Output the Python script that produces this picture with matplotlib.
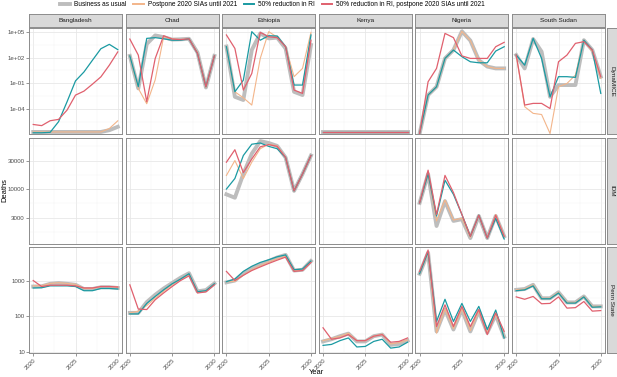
import matplotlib
matplotlib.use("Agg")
import matplotlib.pyplot as plt
from matplotlib.lines import Line2D
from matplotlib.ticker import FixedLocator, NullFormatter

plt.rcParams['font.family'] = ['Liberation Sans', 'DejaVu Sans']

years = list(range(2020, 2031))
countries = ["Bangladesh", "Chad", "Ethiopia", "Kenya", "Nigeria", "South Sudan"]
models = ["DynaMICE", "IDM", "Penn State"]
scenarios = ["Business as usual", "Postpone 2020 SIAs until 2021",
             "50% reduction in RI", "50% reduction in RI, postpone 2020 SIAs until 2021"]

# ---- DynaMICE ----
bau_dyn_bgd = [2e-7, 2e-7, 2e-7, 2e-7, 2e-7, 2e-7, 2e-7, 2e-7, 2e-7, 3.2e-7, 8e-7]
ppn_dyn_bgd = [2e-7, 2e-7, 2e-7, 2e-7, 2e-7, 2e-7, 2e-7, 2e-7, 2e-7, 5e-7, 4e-6]
ri_dyn_bgd = [1.6e-7, 1.6e-7, 1.8e-7, 3.2e-6, 6.8e-4, 0.19, 2.1, 49, 1100, 3600, 870]
rippn_dyn_bgd = [1.5e-6, 1.1e-6, 4.1e-6, 5.9e-6, 7.2e-5, 4.1e-3, 0.012, 0.078, 0.56, 13, 470]

bau_dyn_tcd = [160, 0.025, 4000, 40000, 25000, 13000, 14000, 16000, 400, 0.032, 160]
ppn_dyn_tcd = [160, 0.025, 4e-4, 0.25, 28000, 16000, 13000, 16000, 400, 0.032, 160]
ri_dyn_tcd = [160, 0.04, 18000, 22000, 16000, 11000, 11000, 16000, 320, 0.039, 155]
rippn_dyn_tcd = [15000, 200, 6.9e-4, 79, 37000, 15000, 13000, 16000, 320, 0.039, 160]

bau_dyn_eth = [2000, 2.6e-3, 1.1e-3, 790, 69000, 18000, 22000, 1200, 0.01, 4.2e-3, 3000]
ppn_dyn_eth = [2000, 0.01, 2e-3, 2.8e-4, 81, 110000, 25000, 2000, 0.59, 5.5, 91000]
ri_dyn_eth = [1900, 0.01, 0.23, 110000, 11000, 37000, 34000, 1900, 0.062, 0.062, 45000]
rippn_dyn_eth = [45000, 1200, 0.016, 1.4, 91000, 28000, 22000, 1900, 0.016, 6.5e-3, 11000]

bau_dyn_ken = [1.8e-7] * 11
ppn_dyn_ken = [1.8e-7] * 11
ri_dyn_ken = [1.8e-7] * 11
rippn_dyn_ken = [1.8e-7] * 11

bau_dyn_nga = [1.3e-7, 4.2e-3, 0.039, 81, 780, 120000, 10000, 50, 9, 5.5, 5.5]
ppn_dyn_nga = [1.3e-7, 4.2e-3, 0.039, 81, 780, 120000, 10000, 50, 9, 5.5, 5.5]
ri_dyn_nga = [1.3e-7, 4.2e-3, 0.039, 81, 780, 130, 33, 25, 25, 590, 1900]
rippn_dyn_nga = [1.3e-7, 0.15, 5.5, 69000, 22000, 160, 81, 81, 81, 1900, 6200]

bau_dyn_ssd = [200, 5.5, 15000, 500, 2.6e-3, 0.062, 0.062, 0.062, 11000, 780, 0.59]
ppn_dyn_ssd = [200, 1.8e-4, 3e-5, 2.2e-5, 1.3e-7, 0.039, 0.095, 0.91, 11000, 500, 0.37]
ri_dyn_ssd = [200, 13, 18000, 81, 2.6e-3, 0.59, 0.59, 0.49, 11000, 780, 6.5e-3]
rippn_dyn_ssd = [200, 2.8e-4, 4.4e-4, 4.4e-4, 1.1e-4, 33, 200, 4700, 7400, 780, 0.59]

# ---- IDM ----
bau_idm_eth = [7900, 6900, 18000, 41000, 68000, 63000, 56000, 35000, 9100, 18000, 38000]
ppn_idm_eth = [17000, 31000, 15000, 29000, 50000, 60000, 56000, 35000, 9100, 18000, 38000]
ri_idm_eth = [9800, 15000, 38000, 60000, 63000, 55000, 50000, 35000, 9100, 18000, 38000]
rippn_idm_eth = [29000, 48000, 19000, 33000, 54000, 59000, 55000, 35000, 9100, 18000, 38000]

bau_idm_nga = [5600, 18000, 2200, 6000, 2700, 2900, 1350, 3300, 1350, 3300, 1450]
ppn_idm_nga = [5600, 18000, 2700, 6300, 2800, 3000, 1380, 3400, 1350, 3500, 1480]
ri_idm_nga = [5600, 18000, 3300, 14000, 7900, 3500, 1450, 3400, 1350, 3000, 1300]
rippn_idm_nga = [5600, 21000, 3500, 17000, 8500, 3500, 1450, 3400, 1350, 3400, 1450]

# ---- Penn State ----
bau_psu_bgd = [680, 690, 810, 850, 810, 760, 580, 580, 650, 650, 620]
ppn_psu_bgd = [710, 720, 830, 870, 830, 780, 600, 600, 680, 680, 650]
ri_psu_bgd = [620, 630, 710, 710, 710, 680, 520, 520, 600, 600, 580]
rippn_psu_bgd = [1000, 680, 740, 740, 740, 710, 620, 620, 680, 680, 660]

bau_psu_tcd = [125, 125, 250, 400, 600, 850, 1200, 1600, 500, 540, 830]
ppn_psu_tcd = [125, 140, 200, 320, 500, 760, 1070, 1480, 480, 510, 790]
ri_psu_tcd = [117, 117, 230, 360, 550, 810, 1100, 1550, 490, 520, 810]
rippn_psu_tcd = [760, 160, 155, 290, 450, 680, 1000, 1350, 450, 480, 760]

bau_psu_eth = [890, 1000, 1600, 2200, 2800, 3500, 4400, 5200, 1900, 2000, 3500]
ppn_psu_eth = [930, 950, 1400, 2000, 2600, 3300, 4000, 4800, 1900, 1950, 3300]
ri_psu_eth = [930, 1100, 1800, 2500, 3200, 3800, 4600, 5200, 2000, 2100, 3500]
rippn_psu_eth = [1800, 1000, 1400, 1900, 2400, 3000, 3700, 4500, 1800, 1900, 3200]

bau_psu_ken = [20, 23, 28, 33, 20, 20, 28, 31, 16, 17, 21]
ppn_psu_ken = [21, 24, 28, 34, 21, 21, 28, 32, 17, 18.5, 22]
ri_psu_ken = [15.5, 16.5, 21, 25, 14, 14.5, 20, 23, 13, 14, 19]
rippn_psu_ken = [48, 23, 25, 31, 21, 21, 28, 31, 19, 20, 25]

bau_psu_nga = [1550, 6000, 38, 155, 43, 155, 38, 140, 35, 110, 27]
ppn_psu_nga = [1550, 6000, 34, 160, 45, 160, 40, 140, 35, 115, 28]
ri_psu_nga = [1550, 6300, 72, 300, 72, 230, 72, 190, 43, 150, 25]
rippn_psu_nga = [1800, 7100, 52, 210, 52, 190, 52, 155, 31, 125, 38]

bau_psu_ssd = [550, 580, 760, 320, 320, 470, 245, 245, 360, 190, 190]
ppn_psu_ssd = [550, 580, 760, 320, 320, 470, 245, 245, 360, 190, 190]
ri_psu_ssd = [520, 550, 710, 310, 310, 450, 235, 235, 350, 180, 185]
rippn_psu_ssd = [350, 300, 360, 225, 230, 350, 170, 175, 260, 140, 145]

# panel lookup (model, country) -> four scenario series
panels = {
    ("DynaMICE", "Bangladesh"): [bau_dyn_bgd, ppn_dyn_bgd, ri_dyn_bgd, rippn_dyn_bgd],
    ("DynaMICE", "Chad"): [bau_dyn_tcd, ppn_dyn_tcd, ri_dyn_tcd, rippn_dyn_tcd],
    ("DynaMICE", "Ethiopia"): [bau_dyn_eth, ppn_dyn_eth, ri_dyn_eth, rippn_dyn_eth],
    ("DynaMICE", "Kenya"): [bau_dyn_ken, ppn_dyn_ken, ri_dyn_ken, rippn_dyn_ken],
    ("DynaMICE", "Nigeria"): [bau_dyn_nga, ppn_dyn_nga, ri_dyn_nga, rippn_dyn_nga],
    ("DynaMICE", "South Sudan"): [bau_dyn_ssd, ppn_dyn_ssd, ri_dyn_ssd, rippn_dyn_ssd],
    ("IDM", "Ethiopia"): [bau_idm_eth, ppn_idm_eth, ri_idm_eth, rippn_idm_eth],
    ("IDM", "Nigeria"): [bau_idm_nga, ppn_idm_nga, ri_idm_nga, rippn_idm_nga],
    ("Penn State", "Bangladesh"): [bau_psu_bgd, ppn_psu_bgd, ri_psu_bgd, rippn_psu_bgd],
    ("Penn State", "Chad"): [bau_psu_tcd, ppn_psu_tcd, ri_psu_tcd, rippn_psu_tcd],
    ("Penn State", "Ethiopia"): [bau_psu_eth, ppn_psu_eth, ri_psu_eth, rippn_psu_eth],
    ("Penn State", "Kenya"): [bau_psu_ken, ppn_psu_ken, ri_psu_ken, rippn_psu_ken],
    ("Penn State", "Nigeria"): [bau_psu_nga, ppn_psu_nga, ri_psu_nga, rippn_psu_nga],
    ("Penn State", "South Sudan"): [bau_psu_ssd, ppn_psu_ssd, ri_psu_ssd, rippn_psu_ssd],
}

colors = ["#BDBDBD", "#F3B58A", "#1A9AA2", "#E0606E"]
widths = [2.8, 0.8, 0.9, 0.9]

# per-row y scale (log), ticks and labels
row_ylim = [(1.15e-7, 2.95e5), (1084, 78700), (9.5, 8630)]
row_major = [[1e-4, 1e-1, 1e2, 1e5], [3000, 10000, 30000], [10, 100, 1000]]
row_labels = [["1e-04", "1e-01", "1e+02", "1e+05"], ["3000", "10000", "30000"], ["10", "100", "1000"]]
row_minor = [[3.16e-6, 3.16e-3, 3.16, 3162], [1732, 5477, 17320, 54772], [31.6, 316, 3162]]

W, H = 617, 377
fig = plt.figure(figsize=(W / 100, H / 100), dpi=100)


def box(x0, y0, w, h):
    return [x0 / W, 1 - (y0 + h) / H, w / W, h / H]


border = "#8C8C8C"
col_left = 29
col_step = 96.6
pw = 93
row_top = [28, 137.5, 247]
ph = 106

for r, model in enumerate(models):
    for c, country in enumerate(countries):
        ax = fig.add_axes(box(col_left + c * col_step, row_top[r], pw, ph))
        ax.set_yscale("log")
        ax.set_xlim(2019.5, 2030.5)
        ax.set_ylim(*row_ylim[r])
        ax.yaxis.set_major_locator(FixedLocator(row_major[r]))
        ax.yaxis.set_minor_locator(FixedLocator(row_minor[r]))
        ax.yaxis.set_minor_formatter(NullFormatter())
        ax.xaxis.set_major_locator(FixedLocator([2020, 2025, 2030]))
        ax.xaxis.set_minor_locator(FixedLocator([2022.5, 2027.5]))
        ax.grid(which="major", color="#E6E6E6", lw=0.55)
        ax.grid(which="minor", color="#F3F3F3", lw=0.35)
        ax.set_axisbelow(True)
        for s in ax.spines.values():
            s.set_color(border)
            s.set_linewidth(0.7)
        ax.tick_params(which="major", length=2, width=0.4, color="#444444",
                       labelsize=4.4, labelcolor="#4D4D4D", pad=1)
        ax.tick_params(which="minor", length=0)
        if c == 0:
            ax.set_yticklabels(row_labels[r])
        else:
            ax.tick_params(axis="y", which="major", length=0, labelleft=False)
        if r == 2:
            ax.set_xticklabels(["2020", "2025", "2030"], rotation=45,
                               ha="right", va="top", rotation_mode="anchor")
        else:
            ax.tick_params(axis="x", which="major", length=0, labelbottom=False)

        series = panels.get((model, country))
        if series:
            for vals, col, lw in zip(series, colors, widths):
                ax.plot(years, vals, color=col, lw=lw, solid_joinstyle="round")

        # column strips on top row
        if r == 0:
            sax = fig.add_axes(box(col_left + c * col_step, 14, pw, 13))
            sax.set_facecolor("#D9D9D9")
            sax.set_xticks([])
            sax.set_yticks([])
            for s in sax.spines.values():
                s.set_color(border)
                s.set_linewidth(0.7)
            sax.text(0.5, 0.5, country, ha="center", va="center",
                     fontsize=4.6, color="#1A1A1A", transform=sax.transAxes)

    # row strips on right side
    rax = fig.add_axes(box(col_left + 5 * col_step + pw + 1.5, row_top[r], 10, ph))
    rax.set_facecolor("#D9D9D9")
    rax.set_xticks([])
    rax.set_yticks([])
    for s in rax.spines.values():
        s.set_color(border)
        s.set_linewidth(0.7)
    rax.text(0.5, 0.5, model, ha="center", va="center", rotation=-90,
             fontsize=4.6, color="#1A1A1A", transform=rax.transAxes)

fig.text(5 / W, 1 - 190 / H, "Deaths", rotation=90, ha="center", va="center", fontsize=5.4)
fig.text(316.5 / W, 1 - 372 / H, "Year", ha="center", va="center", fontsize=5.4)

handles = [Line2D([], [], color=colors[0], lw=2.8),
           Line2D([], [], color=colors[1], lw=1.4),
           Line2D([], [], color=colors[2], lw=1.4),
           Line2D([], [], color=colors[3], lw=1.4)]
fig.legend(handles, scenarios, loc="center left", bbox_to_anchor=(60 / W, 1 - 5 / H),
           ncol=4, frameon=False, fontsize=4.7, handlelength=1.6, handletextpad=0.55,
           columnspacing=1.1, borderpad=0, borderaxespad=0)

fig.savefig("out.png", dpi=100)
